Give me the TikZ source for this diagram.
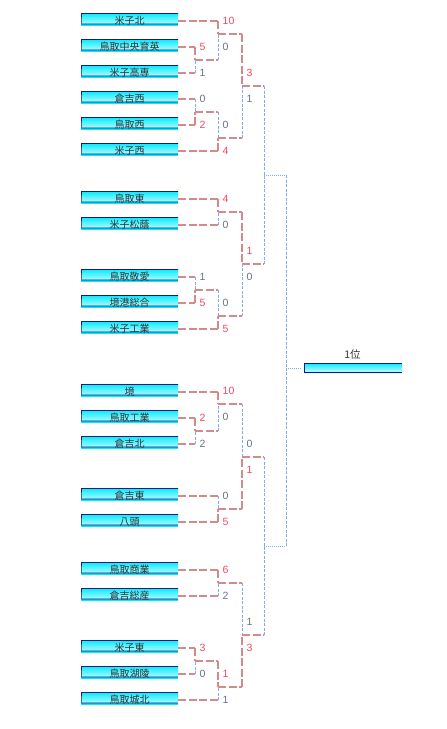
\documentclass[tikz,border=0pt]{standalone}
\usepackage{fontspec}
\newfontfamily\jp{Noto Sans CJK JP}
\newfontfamily\numf{Liberation Sans}
\definecolor{linered}{RGB}{212,138,138}
\definecolor{lineblue}{RGB}{130,172,235}
\definecolor{scorered}{RGB}{240,72,92}
\definecolor{scoregray}{RGB}{100,115,135}
\definecolor{boxcyan}{RGB}{0,236,255}
\definecolor{boxnavy}{RGB}{20,24,120}
\definecolor{txt}{RGB}{50,50,50}
\tikzset{
  teambox/.style={rectangle, minimum width=97pt, minimum height=16pt, inner sep=0pt,
    font=\jp\fontsize{10}{12}\selectfont, text=txt,
    path picture={
      \shade[top color=boxcyan, middle color=boxcyan!35!white, bottom color=white]
        (path picture bounding box.north west) rectangle ([yshift=5.5pt]path picture bounding box.south east);
      \fill[boxcyan] ([yshift=3pt]path picture bounding box.south west) rectangle ([yshift=4.8pt]path picture bounding box.south east);
      \draw[boxnavy, line width=0.9pt] ([yshift=5pt]path picture bounding box.south east) -- ([yshift=5pt]path picture bounding box.south west)
        -- ([xshift=0.45pt,yshift=-0.45pt]path picture bounding box.north west) -- ([yshift=-0.45pt]path picture bounding box.north east);
    }},
  champbox/.style={rectangle, minimum width=98pt, minimum height=10pt, inner sep=0pt,
    path picture={
      \shade[top color=boxcyan, bottom color=boxcyan!15!white]
        (path picture bounding box.north west) rectangle (path picture bounding box.south east);
      \draw[boxnavy, line width=0.9pt] ([yshift=0.45pt]path picture bounding box.south east) -- ([xshift=0.45pt,yshift=0.45pt]path picture bounding box.south west)
        -- ([xshift=0.45pt,yshift=-0.45pt]path picture bounding box.north west) -- ([yshift=-0.45pt]path picture bounding box.north east);
    }},
  win/.style={draw=linered, line width=1.6pt, dash pattern=on 8pt off 2.5pt},
  lose/.style={draw=lineblue, line width=1pt, dash pattern=on 3pt off 1.5pt},
  losedot/.style={draw=lineblue, line width=1pt, dash pattern=on 1pt off 1pt},
  scw/.style={anchor=west, inner sep=0pt, font=\numf\fontsize{10.5}{12}\selectfont, text=scorered},
  scl/.style={anchor=west, inner sep=0pt, font=\numf\fontsize{10.5}{12}\selectfont, text=scoregray},
  lbl/.style={inner sep=0pt, font=\jp\fontsize{10.5}{12}\selectfont, text=txt}
}
\newcommand\team[3]{\node[teambox] (#1) at (129.5,#2) {#3};}
\newcommand\bout[8]{%
  \coordinate (#3) at (#4,#5);
  \draw[win] (#1) -- (#1 -| #3);
  \draw[win] (#2) -- (#2 -| #3);
  \ifcase#6
    \draw[lose] (#1 -| #3) -- (#3);
    \draw[lose] (#2 -| #3) -- (#3);
  \or
    \draw[win] (#1 -| #3) -- (#3);
    \draw[lose] (#2 -| #3) -- (#3);
    \node[scw] (#3a) at (#4+4.5,#5-13) {#7};
    \node[scl] (#3b) at (#4+4.5,#5+13) {#8};
  \or
    \draw[lose] (#1 -| #3) -- (#3);
    \draw[win] (#2 -| #3) -- (#3);
    \node[scl] (#3a) at (#4+4.5,#5-13) {#7};
    \node[scw] (#3b) at (#4+4.5,#5+13) {#8};
  \fi}
\begin{document}
\begin{tikzpicture}[x=1pt,y=-1pt]
\useasboundingbox (0,0) rectangle (447,729);
\team{t1}{21}{米子北}
\team{t2}{47}{鳥取中央育英}
\team{t3}{73}{米子高専}
\team{t4}{99}{倉吉西}
\team{t5}{125}{鳥取西}
\team{t6}{151}{米子西}
\team{t7}{199}{鳥取東}
\team{t8}{225}{米子松蔭}
\team{t9}{277}{鳥取敬愛}
\team{t10}{303}{境港総合}
\team{t11}{329}{米子工業}
\team{t12}{392}{境}
\team{t13}{418}{鳥取工業}
\team{t14}{444}{倉吉北}
\team{t15}{496}{倉吉東}
\team{t16}{522}{八頭}
\team{t17}{570}{鳥取商業}
\team{t18}{596}{倉吉総産}
\team{t19}{648}{米子東}
\team{t20}{674}{鳥取湖陵}
\team{t21}{700}{鳥取城北}

\bout{t2.east}{t3.east}{m1}{195}{60}{1}{5}{1}
\bout{t1.east}{m1}{m2}{218}{34}{1}{10}{0}
\bout{t4.east}{t5.east}{m3}{195}{112}{2}{0}{2}
\bout{m3}{t6.east}{m4}{218}{138}{2}{0}{4}
\bout{m2}{m4}{m5}{242}{86}{1}{3}{1}
\bout{t7.east}{t8.east}{m6}{218}{212}{1}{4}{0}
\bout{t9.east}{t10.east}{m7}{195}{290}{2}{1}{5}
\bout{m7}{t11.east}{m8}{218}{316}{2}{0}{5}
\bout{m6}{m8}{m9}{242}{264}{1}{1}{0}
\bout{m5}{m9}{sf1}{264}{175}{0}{}{}
\bout{t13.east}{t14.east}{m10}{195}{431}{1}{2}{2}
\bout{t12.east}{m10}{m11}{218}{404}{1}{10}{0}
\bout{t15.east}{t16.east}{m12}{218}{509}{2}{0}{5}
\bout{m11}{m12}{m13}{242}{457}{2}{0}{1}
\bout{t17.east}{t18.east}{m14}{218}{583}{1}{6}{2}
\bout{t19.east}{t20.east}{m15}{195}{661}{1}{3}{0}
\bout{m15}{t21.east}{m16}{218}{687}{1}{1}{1}
\bout{m14}{m16}{m17}{242}{635}{2}{1}{3}
\bout{m13}{m17}{sf2}{264}{546}{0}{}{}

\node[champbox] (champ) at (353,368) {};
\node[lbl] (champlbl) at (352.5,354.5) {1位};
\coordinate (fin) at (286,368);
\draw[losedot] (sf1) -- (sf1 -| fin);
\draw[losedot] (sf2) -- (sf2 -| fin);
\draw[lose] (sf1 -| fin) -- (fin);
\draw[lose] (sf2 -| fin) -- (fin);
\draw[losedot] (fin) -- ([xshift=-3pt]champ.west);
\end{tikzpicture}
\end{document}
